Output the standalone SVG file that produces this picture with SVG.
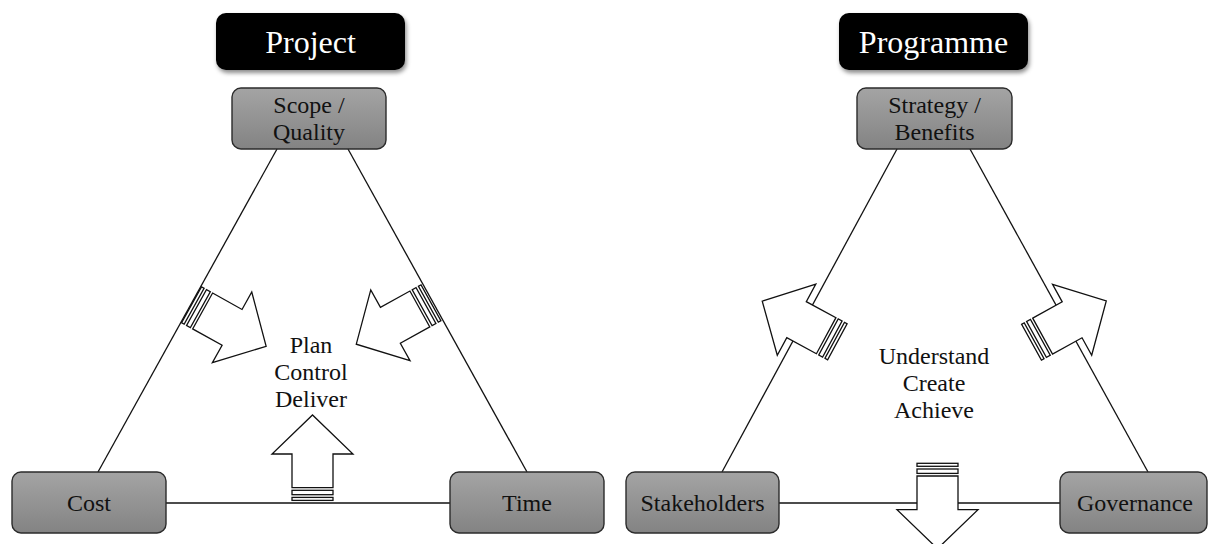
<svg xmlns="http://www.w3.org/2000/svg" width="1208" height="544" viewBox="0 0 1208 544">
  <defs>
    <linearGradient id="boxFill" x1="0" y1="0" x2="0" y2="1">
      <stop offset="0" stop-color="#a4a4a4"/>
      <stop offset="1" stop-color="#838383"/>
    </linearGradient>
    <filter id="titleShadow" x="-10%" y="-20%" width="125%" height="150%">
      <feDropShadow dx="1.5" dy="3" stdDeviation="2" flood-color="#000" flood-opacity="0.45"/>
    </filter>
    <!-- striped arrow, pointing +x, back edge at x=0 -->
    <g id="stripedArrow">
      <rect class="stripe" x="0.6" y="-20.5" width="3" height="41"/>
      <rect class="stripe" x="6.3" y="-20.5" width="4.4" height="41"/>
      <path class="arrow" d="M13.3,-20.5 L47,-20.5 L47,-40.5 L86,0 L47,40.5 L47,20.5 L13.3,20.5 Z"/>
    </g>
  </defs>
  <style>
    .title rect { fill: #000; filter: url(#titleShadow); }
    .title text { font-family: "Liberation Serif", "Times New Roman", serif; font-size: 32px; fill: #fff; text-anchor: middle; }
    .node rect { fill: url(#boxFill); stroke: #2b2b2b; stroke-width: 1.4; }
    .node text, .label text { font-family: "Liberation Serif", "Times New Roman", serif; font-size: 24px; fill: #111; text-anchor: middle; }
    .edges line { stroke: #111; stroke-width: 1.3; }
    .arrow, .stripe { fill: #fff; stroke: #111; stroke-width: 1.3; stroke-linejoin: miter; }
  </style>

  <rect width="1208" height="544" fill="#fff"/>

  <!-- triangle sides -->
  <g id="connectors" class="edges">
    <line x1="277" y1="149" x2="98" y2="472"/>
    <line x1="348" y1="149" x2="527" y2="472"/>
    <line x1="166" y1="503" x2="450" y2="503"/>
    <line x1="897" y1="149" x2="722" y2="472"/>
    <line x1="970" y1="149" x2="1148" y2="472"/>
    <line x1="779" y1="503" x2="1060" y2="503"/>
  </g>

  <!-- Project: arrows pointing inward -->
  <g id="project-arrows">
    <use href="#stripedArrow" transform="translate(191,304.5) rotate(29.1)"/>
    <use href="#stripedArrow" transform="translate(431.5,302.5) rotate(151)"/>
    <use href="#stripedArrow" transform="translate(312.5,501) rotate(-90)"/>
  </g>

  <!-- Programme: arrows pointing outward -->
  <g id="programme-arrows">
    <use href="#stripedArrow" transform="translate(802.7,323) rotate(208.4) translate(-40,0)"/>
    <use href="#stripedArrow" transform="translate(1066,323.2) rotate(-28.9) translate(-40,0)"/>
    <use href="#stripedArrow" transform="translate(937.5,502.7) rotate(90) translate(-40,0)"/>
  </g>

  <!-- titles -->
  <g id="title-project" class="title">
    <rect x="216" y="13" width="189" height="57" rx="10"/>
    <text x="310.5" y="53">Project</text>
  </g>
  <g id="title-programme" class="title">
    <rect x="839" y="13" width="189" height="57" rx="10"/>
    <text x="933.5" y="53">Programme</text>
  </g>

  <!-- Project nodes -->
  <g id="node-scope" class="node">
    <rect x="232" y="88" width="154" height="61" rx="9"/>
    <text x="309" y="113">Scope /</text>
    <text x="309" y="140">Quality</text>
  </g>
  <g id="node-cost" class="node">
    <rect x="12" y="472" width="154" height="61" rx="9"/>
    <text x="89" y="510.5">Cost</text>
  </g>
  <g id="node-time" class="node">
    <rect x="450" y="472" width="154" height="61" rx="9"/>
    <text x="527" y="510.5">Time</text>
  </g>
  <g id="label-project" class="label">
    <text x="311" y="353">Plan</text>
    <text x="311" y="380">Control</text>
    <text x="311" y="407">Deliver</text>
  </g>

  <!-- Programme nodes -->
  <g id="node-strategy" class="node">
    <rect x="857" y="88" width="155" height="61" rx="9"/>
    <text x="934.5" y="113">Strategy /</text>
    <text x="934.5" y="140">Benefits</text>
  </g>
  <g id="node-stakeholders" class="node">
    <rect x="626" y="472" width="153" height="61" rx="9"/>
    <text x="702.5" y="510.5">Stakeholders</text>
  </g>
  <g id="node-governance" class="node">
    <rect x="1060" y="472" width="147" height="61" rx="9"/>
    <text x="1135" y="510.5">Governance</text>
  </g>
  <g id="label-programme" class="label">
    <text x="934" y="364">Understand</text>
    <text x="934" y="391">Create</text>
    <text x="934" y="418">Achieve</text>
  </g>
</svg>
